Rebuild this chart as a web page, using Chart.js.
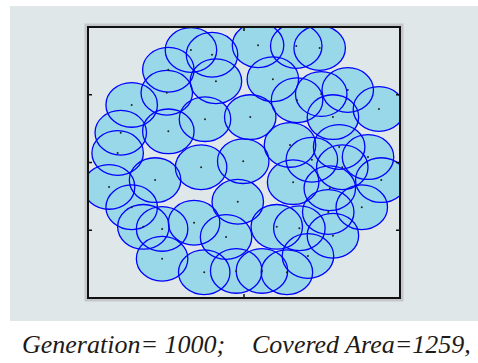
<!DOCTYPE html>
<html>
<head>
<meta charset="utf-8">
<script src="https://cdn.jsdelivr.net/npm/chart.js@4/dist/chart.umd.min.js"></script>
<style>
  body { margin: 0; background: #fff; width: 478px; height: 363px; overflow: hidden; position: relative; }
  #fig { position: absolute; left: 10px; top: 6px; width: 468px; height: 315px; background: #e0e7e9; }
  .cap { position: absolute; top: 332px; font-family: "Liberation Serif", "Times New Roman", "DejaVu Serif", "Noto Serif", serif;
         font-style: italic; font-size: 26px; line-height: 26px; color: #1e1a16; white-space: nowrap; }
</style>
</head>
<body>
<div id="fig"><canvas id="cover" width="468" height="315"></canvas></div>
<div class="cap" style="left:22px">Generation= 1000;</div>
<div class="cap" style="left:252px">Covered Area=1259,</div>
<script>
// sensor centres (field is 40 x 40), radius of each sensor
const xs = [13.2, 15.9, 10.3, 10.1, 16.4, 5.6, 4.2, 10.3, 15.0, 3.8, 2.7, 8.6, 14.5, 5.6, 7.1, 9.5,
            13.6, 17.7, 9.5, 14.9, 19.0, 20.8, 19.9, 19.2, 21.8, 23.7, 29.7, 26.7, 26.8, 29.9, 33.3, 37.3,
            31.4, 25.9, 32.2, 35.9, 37.6, 35.1, 32.6, 31.0, 26.3, 31.4, 28.2, 25.5, 22.3, 24.2, 27.1, 30.8, 28.7];
const ys = [36.6, 35.9, 33.7, 30.3, 32.0, 28.5, 24.4, 24.6, 26.4, 21.4, 16.4, 17.4, 19.3, 13.4, 10.5, 10.2,
            11.1, 9.0, 5.8, 3.8, 4.0, 26.7, 20.2, 14.2, 37.3, 32.3, 36.9, 37.2, 29.2, 30.1, 30.7, 27.9,
            26.7, 22.6, 22.3, 20.8, 17.4, 13.4, 19.3, 16.2, 17.1, 9.2, 6.2, 3.8, 4.0, 10.5, 10.3, 12.7, 20.4];
const radius = 3.3;
const xTickValues = [20];
const yTickValues = [10, 20, 30];

const points = xs.map((x, i) => ({x: x, y: ys[i]}));

const circles = {
  id: 'circles',
  beforeDatasetsDraw(chart) {
    const {ctx, chartArea: a, scales: {x, y}} = chart;
    ctx.save();
    ctx.beginPath();
    ctx.rect(a.left, a.top, a.right - a.left, a.bottom - a.top);
    ctx.clip();
    const shapes = points.map(p => {
      const cx = x.getPixelForValue(p.x), cy = y.getPixelForValue(p.y);
      return [cx, cy, Math.abs(x.getPixelForValue(p.x + radius) - cx), Math.abs(y.getPixelForValue(p.y + radius) - cy)];
    });
    ctx.fillStyle = '#98d8e8';
    shapes.forEach(s => { ctx.beginPath(); ctx.ellipse(s[0], s[1], s[2], s[3], 0, 0, Math.PI * 2); ctx.fill(); });
    ctx.strokeStyle = '#0000ff';
    ctx.lineWidth = 1.3;
    shapes.forEach(s => { ctx.beginPath(); ctx.ellipse(s[0], s[1], s[2], s[3], 0, 0, Math.PI * 2); ctx.stroke(); });
    ctx.restore();
  },
  afterDraw(chart) {
    const {ctx, chartArea: a, scales: {x, y}} = chart;
    ctx.save();
    // soft shadow + black box
    ctx.strokeStyle = '#c4c8ca';
    ctx.lineWidth = 3;
    ctx.strokeRect(a.left - 2, a.top - 2, a.right - a.left + 4, a.bottom - a.top + 4);
    ctx.strokeStyle = '#111';
    ctx.lineWidth = 2;
    ctx.strokeRect(a.left, a.top, a.right - a.left, a.bottom - a.top);
    ctx.lineWidth = 1.5;
    ctx.beginPath();
    yTickValues.forEach(v => {
      const py = y.getPixelForValue(v);
      ctx.moveTo(a.left, py); ctx.lineTo(a.left + 4, py);
      ctx.moveTo(a.right, py); ctx.lineTo(a.right - 4, py);
    });
    xTickValues.forEach(v => {
      const px = x.getPixelForValue(v);
      ctx.moveTo(px, a.bottom); ctx.lineTo(px, a.bottom - 4);
      ctx.moveTo(px, a.top); ctx.lineTo(px, a.top + 4);
    });
    ctx.stroke();
    ctx.restore();
  }
};

new Chart(document.getElementById('cover'), {
  type: 'scatter',
  data: {
    datasets: [{
      data: points,
      pointRadius: 1,
      pointBorderWidth: 0,
      pointBackgroundColor: '#222',
      pointHoverRadius: 1
    }]
  },
  options: {
    responsive: false,
    animation: false,
    layout: { padding: { left: 78, top: 21, right: 78, bottom: 23 } },
    plugins: { legend: { display: false }, tooltip: { enabled: false } },
    scales: {
      x: { display: false, min: 0, max: 40 },
      y: { display: false, min: 0, max: 40 }
    }
  },
  plugins: [circles]
});
</script>
</body>
</html>
